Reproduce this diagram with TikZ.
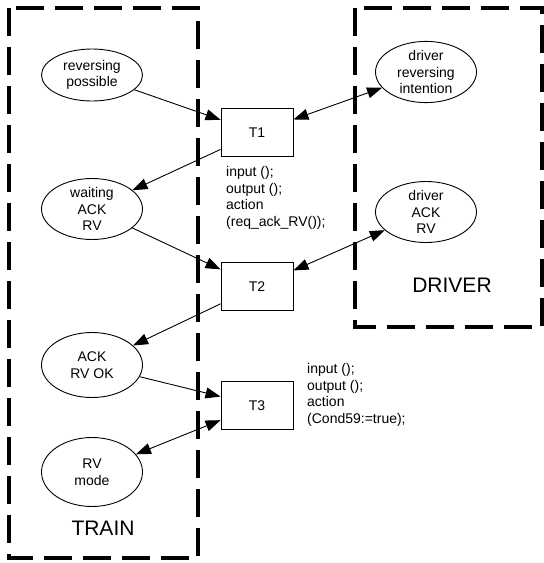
\documentclass[tikz,border=0pt]{standalone}
\usepackage{fontspec}
\setmainfont{Liberation Sans}
\usetikzlibrary{arrows.meta,shapes.geometric}
\begin{document}
\begin{tikzpicture}[x=1pt,y=-1pt,
  place/.style={draw,ellipse,line width=0.9pt,minimum width=101pt,minimum height=#1,inner sep=0pt,align=center,font=\fontsize{14}{16.5}\selectfont},
  place/.default=60pt,
  trans/.style={draw,rectangle,line width=0.9pt,minimum width=72pt,minimum height=48pt,inner sep=0pt,font=\fontsize{14}{16.5}\selectfont},
  note/.style={anchor=north west,inner sep=0pt,align=left,font=\fontsize{14}{16.7}\selectfont},
  arc/.style={line width=0.9pt,-{Triangle[length=15pt,width=11pt]}},
  biarc/.style={line width=0.9pt,{Triangle[length=15pt,width=11pt]}-{Triangle[length=15pt,width=11pt]}},
  zone/.style={line width=4pt,dash pattern=on 28pt off 11pt}]
\useasboundingbox (0,0) rectangle (544,563);
\def\trainzone{(9,8) rectangle (198,558)}
\def\driverzone{(355,8) rectangle (542,327)}

\draw[zone] \trainzone;
\draw[zone] \driverzone;
\node[font=\fontsize{21}{24}\selectfont] (train) at (103,528) {TRAIN};
\node[font=\fontsize{21}{24}\selectfont] (driver) at (452,285) {DRIVER};

% places of the train
\node[place=52pt] (revposs) at (92,75) {reversing\\possible};
\node[place=60pt] (waitack) at (92,209) {waiting\\ACK\\RV};
\node[place=65pt] (ackok) at (92,365) {ACK\\RV OK};
\node[place=69pt] (rvmode) at (92,472) {RV\\mode};

% places of the driver
\node[place=52pt] (drvint) at (426,72) {driver\\reversing\\intention};
\node[place=61pt] (drvack) at (426,212) {driver\\ACK\\RV};

% transitions
\node[trans] (t1) at (257,132.5) {T1};
\node[trans] (t2) at (257,286.5) {T2};
\node[trans] (t3) at (257,405.5) {T3};
\node[note] (t1note) at (226,166) {input ();\\output ();\\action\\(req\_ack\_RV());};
\node[note] (t3note) at (307,363) {input ();\\output ();\\action\\(Cond59:=true);};

\draw[arc] (revposs) -- (t1);
\draw[arc] (t1) -- (waitack);
\draw[arc] (waitack) -- (t2);
\draw[arc] (t2) -- (ackok);
\draw[arc] (ackok) -- (t3);
\draw[biarc] (t3) -- (rvmode);
\draw[biarc] (t1) -- (drvint);
\draw[biarc] (t2) -- (drvack);
\end{tikzpicture}
\end{document}
